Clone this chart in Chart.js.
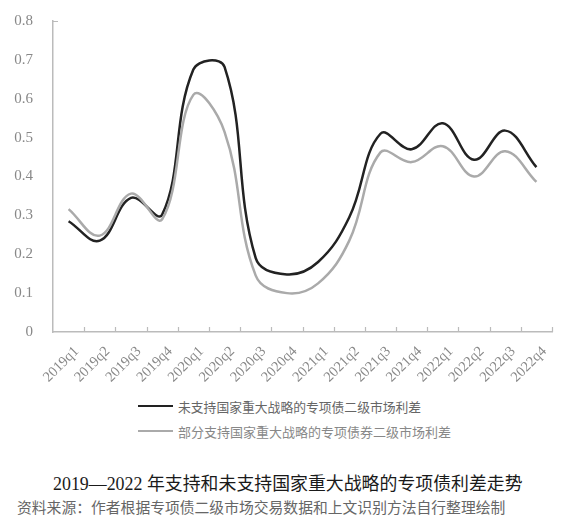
<!DOCTYPE html>
<html lang="zh">
<head>
  <meta charset="UTF-8">
  <title>专项债利差走势</title>
  <script src="https://cdn.jsdelivr.net/npm/chart.js"></script>
  <style>
    body {
      margin: 0;
      background: #fff;
      width: 580px;
      height: 518px;
      position: relative;
      overflow: hidden;
    }
    #chartBox {
      position: absolute;
      left: 0;
      top: 0;
      width: 580px;
      height: 395px;
    }
    .legend-row {
      position: absolute;
      left: 138px;
      height: 16px;
      display: flex;
      align-items: center;
      font-family: "Noto Sans CJK SC", sans-serif;
      white-space: nowrap;
    }
    .legend-line {
      width: 35px;
      height: 2.5px;
      margin-right: 5px;
    }
    .title {
      position: absolute;
      left: 53px;
      top: 469px;
      font-family: "Liberation Serif", "Noto Sans CJK SC", serif;
      font-size: 17.9px;
      color: #1a1a1a;
      white-space: nowrap;
    }
    .source {
      position: absolute;
      left: 17px;
      top: 496px;
      font-family: "Noto Sans CJK SC", sans-serif;
      font-size: 14.8px;
      color: #666;
      white-space: nowrap;
    }
  </style>
</head>
<body>
  <div id="chartBox">
    <canvas id="spreadChart" width="580" height="395"></canvas>
  </div>

  <div class="legend-row" style="top:398px; color:#666; font-size:12.8px;">
    <div class="legend-line" style="background:#222;"></div>未支持国家重大战略的专项债二级市场利差
  </div>
  <div class="legend-row" style="top:423px; color:#888; font-size:13px;">
    <div class="legend-line" style="background:#aaa;"></div>部分支持国家重大战略的专项债券二级市场利差
  </div>

  <div class="title">2019—2022 年支持和未支持国家重大战略的专项债利差走势</div>
  <div class="source">资料来源：作者根据专项债二级市场交易数据和上文识别方法自行整理绘制</div>

  <script>
    // quarters on the x axis
    const quarters = [
      '2019q1', '2019q2', '2019q3', '2019q4',
      '2020q1', '2020q2', '2020q3', '2020q4',
      '2021q1', '2021q2', '2021q3', '2021q4',
      '2022q1', '2022q2', '2022q3', '2022q4'
    ];

    // 未支持国家重大战略
    const unsupported = [0.285, 0.235, 0.345, 0.302, 0.675, 0.682, 0.19, 0.148,
                         0.18, 0.295, 0.51, 0.47, 0.537, 0.443, 0.518, 0.424];

    // 部分支持国家重大战略
    const partial = [0.316, 0.248, 0.356, 0.29, 0.61, 0.515, 0.145, 0.10,
                     0.125, 0.235, 0.462, 0.437, 0.478, 0.40, 0.465, 0.386];

    const yTicks = [0, 0.1, 0.2, 0.3, 0.4, 0.5, 0.6, 0.7, 0.8];

    // small inner tick marks like the original excel chart
    const innerTicks = {
      id: 'innerTicks',
      afterDraw(chart) {
        const { ctx, chartArea, scales: { x, y } } = chart;
        const half = (x.getPixelForValue(1) - x.getPixelForValue(0)) / 2;
        ctx.save();
        ctx.strokeStyle = '#bbb';
        ctx.lineWidth = 1.2;
        ctx.beginPath();
        for (let i = 0; i < quarters.length; i++) {
          const px = Math.round(x.getPixelForValue(i) + half) + 0.5;
          ctx.moveTo(px, chartArea.bottom);
          ctx.lineTo(px, chartArea.bottom - 5);
        }
        const top = Math.round(y.getPixelForValue(yTicks[yTicks.length - 1])) + 0.5;
        ctx.moveTo(chartArea.left, top);
        ctx.lineTo(chartArea.left + 5, top);
        ctx.stroke();
        ctx.restore();
      }
    };

    new Chart(document.getElementById('spreadChart'), {
      type: 'line',
      data: {
        labels: quarters,
        datasets: [
          {
            label: '部分支持国家重大战略的专项债券二级市场利差',
            data: partial,
            borderColor: '#aaa',
            borderWidth: 2.5,
            pointRadius: 0,
            tension: 0.4,
            fill: false
          },
          {
            label: '未支持国家重大战略的专项债二级市场利差',
            data: unsupported,
            borderColor: '#222',
            borderWidth: 2.5,
            pointRadius: 0,
            tension: 0.4,
            fill: false
          }
        ]
      },
      plugins: [innerTicks],
      options: {
        responsive: false,
        animation: false,
        devicePixelRatio: 1,
        layout: { padding: { left: 0, right: 28, top: 6, bottom: 0 } },
        plugins: {
          legend: { display: false },
          tooltip: { enabled: false }
        },
        scales: {
          x: {
            offset: true,
            grid: { display: false, offset: true },
            border: { color: '#bbb', width: 1.5 },
            ticks: {
              minRotation: 45,
              maxRotation: 45,
              autoSkip: false,
              padding: 3,
              labelOffset: 8,
              color: '#888',
              font: { family: 'Liberation Serif', size: 14.5 }
            },
            afterFit: s => { s.height = 63; }
          },
          y: {
            min: 0,
            max: 0.8,
            grid: { display: false },
            border: { color: '#bbb', width: 1.5 },
            afterBuildTicks: s => { s.ticks = yTicks.map(v => ({ value: v })); },
            ticks: {
              padding: 12,
              color: '#888',
              font: { family: 'Liberation Serif', size: 15 },
              callback: v => String(+v.toFixed(1))
            },
            afterFit: s => { s.width = 53; }
          }
        }
      }
    });
  </script>
</body>
</html>
